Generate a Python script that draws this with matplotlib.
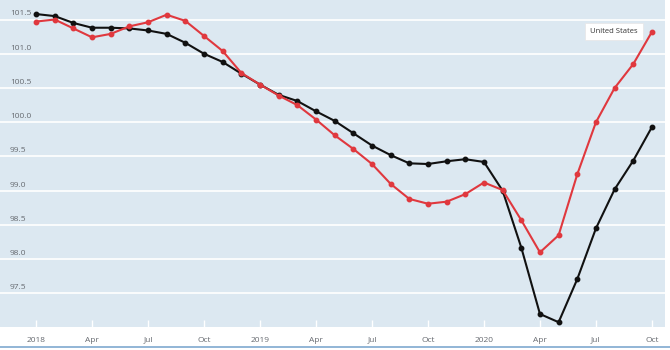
import numpy as np
import matplotlib
matplotlib.use("Agg")
import matplotlib.pyplot as plt
from matplotlib import transforms

plt.rcParams['font.family'] = ['Open Sans', 'DejaVu Sans']

# monthly index, Jan 2018 .. Oct 2020
months = list(range(34))
black_vals = [101.58, 101.55, 101.45, 101.38, 101.38, 101.37, 101.34, 101.29,
              101.16, 101.00, 100.88, 100.71, 100.55, 100.40, 100.31, 100.16,
              100.02, 99.84, 99.66, 99.52, 99.40, 99.39, 99.43, 99.46,
              99.42, 99.00, 98.17, 97.20, 97.08, 97.71, 98.45, 99.02,
              99.44, 99.93]
red_vals = [101.47, 101.50, 101.37, 101.24, 101.29, 101.40, 101.46, 101.57,
            101.48, 101.26, 101.04, 100.72, 100.55, 100.39, 100.25, 100.04,
            99.81, 99.61, 99.39, 99.10, 98.88, 98.81, 98.84, 98.95,
            99.12, 99.01, 98.57, 98.10, 98.35, 99.24, 100.00, 100.50,
            100.85, 101.32]
xtick_pos = [0, 3, 6, 9, 12, 15, 18, 21, 24, 27, 30, 33]
xtick_labels = ["2018", "Apr", "Jul", "Oct", "2019", "Apr", "Jul", "Oct",
                "2020", "Apr", "Jul", "Oct"]
ytick_vals = [97.5, 98.0, 98.5, 99.0, 99.5, 100.0, 100.5, 101.0, 101.5]
series_name = "United States"

bg = "#dce8f1"
label_col = "#666a70"

fig = plt.figure(figsize=(6.7, 3.5), dpi=100)
ax = fig.add_axes([0, 23 / 350, 665 / 670, 327 / 350])
ax.set_facecolor(bg)

ax.plot(months, black_vals, color="#111111", lw=1.5, marker="o", ms=3.2,
        zorder=3)
ax.plot(months, red_vals, color="#e0383e", lw=1.5, marker="o", ms=3.2,
        zorder=4)

ax.set_xlim(-1.93, 33.7)
ax.set_ylim(97.01, 101.785)

# white gridlines with labels sitting just above them
ax.set_yticks(ytick_vals)
ax.yaxis.grid(True, color="white", lw=1.2)
ax.tick_params(axis="y", left=False, labelleft=False)
trans = transforms.blended_transform_factory(ax.transAxes, ax.transData)
for v in ytick_vals:
    ax.text(0.015, v + 0.03, f"{v:.1f}", transform=trans, fontsize=6,
            color=label_col, va="bottom", ha="left")

ax.set_xticks(xtick_pos)
ax.set_xticklabels(xtick_labels, fontsize=6, color=label_col)
ax.tick_params(axis="x", direction="in", length=5, width=1, color="white",
               pad=7)
ax.set_axisbelow(True)
for s in ax.spines.values():
    s.set_visible(False)

# series label next to the last point
ax.annotate(series_name, xy=(months[-1], red_vals[-1]),
            xytext=(-10, 0), textcoords="offset points",
            ha="right", va="center", fontsize=5.5, color="#333333",
            bbox=dict(boxstyle="square,pad=0.65", fc="white", ec="#e6e6e6",
                      lw=0.5), zorder=5)

# thin blue rule along the bottom edge
fig.add_artist(plt.Line2D([0, 1], [3.5 / 350, 3.5 / 350], color="#7fa9cf",
                          lw=1.2, transform=fig.transFigure))

fig.savefig("out.png", dpi=100, facecolor="white")
